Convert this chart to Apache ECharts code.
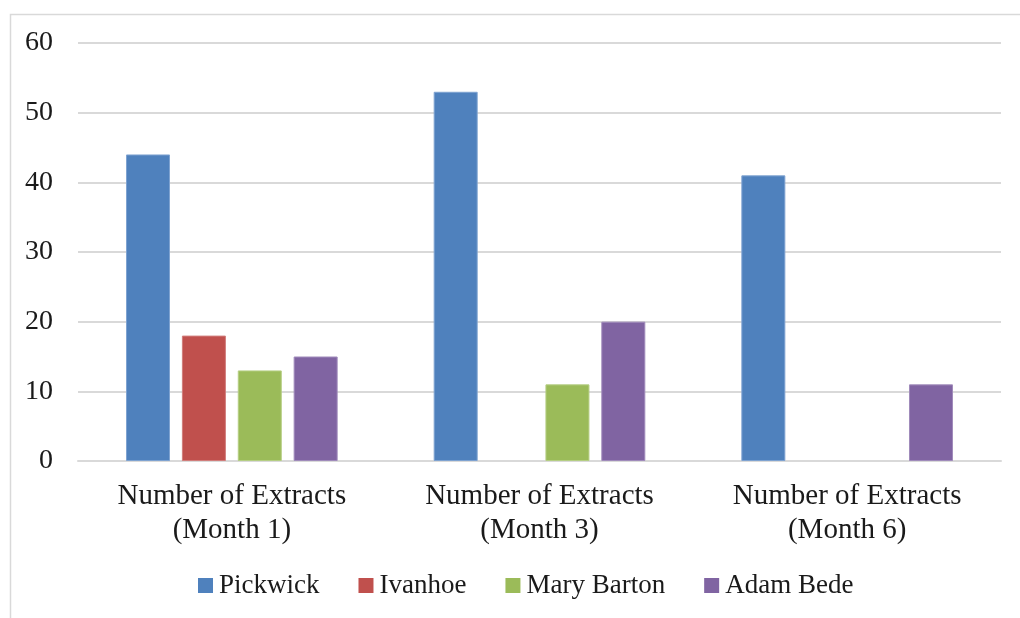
<!DOCTYPE html>
<html>
<head>
<meta charset="utf-8">
<script src="https://cdn.jsdelivr.net/npm/echarts@6/dist/echarts.min.js"></script>
<style>
  html, body { margin: 0; padding: 0; background: #fff; }
  #chart { width: 1020px; height: 618px; }
</style>
</head>
<body>
<div id="chart"></div>
<script>
// Extract counts per novel over three sampling months
const categories = [
  'Number of Extracts\n(Month 1)',
  'Number of Extracts\n(Month 3)',
  'Number of Extracts\n(Month 6)'
];
const pickwick   = [44, 53, 41];
const ivanhoe    = [18, 0, 0];
const maryBarton = [13, 11, 0];
const adamBede   = [15, 20, 11];
const yTicks = [0, 10, 20, 30, 40, 50, 60];

const seriesDefs = [
  { name: 'Pickwick',    data: pickwick,   color: '#4F81BD', edge: '#7FA3D1' },
  { name: 'Ivanhoe',     data: ivanhoe,    color: '#C0504D', edge: '#D17D7B' },
  { name: 'Mary Barton', data: maryBarton, color: '#9BBB59', edge: '#B5CE83' },
  { name: 'Adam Bede',   data: adamBede,   color: '#8064A2', edge: '#A08BBB' }
];

const FONT = '"Liberation Serif", "DejaVu Serif", serif';

const chart = echarts.init(document.getElementById('chart'), null, { renderer: 'canvas' });

chart.setOption({
  animation: false,
  backgroundColor: '#ffffff',
  textStyle: { fontFamily: FONT },
  graphic: [{
    type: 'rect',
    left: 8, top: 12,
    shape: { width: 1100, height: 700 },
    style: { fill: 'none', stroke: '#d9d9d9', lineWidth: 1.5 },
    silent: true
  }],
  grid: { left: 78, right: 19, top: 43, bottom: 157, containLabel: false },
  legend: {
    bottom: 14,
    left: 193,
    itemWidth: 15,
    itemHeight: 15,
    itemGap: 39,
    icon: 'rect',
    itemStyle: { borderWidth: 0 },
    textStyle: { fontFamily: FONT, fontSize: 27, color: '#1a1a1a', padding: [0, 0, 0, 1] },
    data: seriesDefs.map(s => s.name)
  },
  xAxis: {
    type: 'category',
    data: categories,
    axisLine: { show: true, lineStyle: { color: '#d9d9d9', width: 2 } },
    axisTick: { show: false },
    axisLabel: {
      fontFamily: FONT, fontSize: 29, color: '#1a1a1a',
      lineHeight: 34, margin: 18, interval: 0
    }
  },
  yAxis: {
    type: 'value',
    min: yTicks[0],
    max: yTicks[yTicks.length - 1],
    interval: 10,
    axisLine: { show: false },
    axisTick: { show: false },
    splitLine: { lineStyle: { color: '#d9d9d9', width: 2 } },
    axisLabel: { fontFamily: FONT, fontSize: 28, color: '#1a1a1a', margin: 25 }
  },
  series: seriesDefs.map(s => ({
    name: s.name,
    type: 'bar',
    // zero counts leave an empty slot, with no outline drawn
    data: s.data.map(v => v === 0
      ? { value: v, itemStyle: { borderWidth: 0 } }
      : v),
    barWidth: 44,
    barGap: '27%',
    itemStyle: { color: s.color, borderColor: s.edge, borderWidth: 1 }
  }))
});
</script>
</body>
</html>
